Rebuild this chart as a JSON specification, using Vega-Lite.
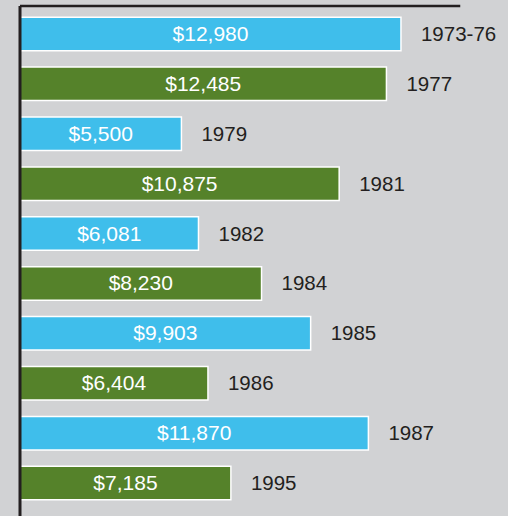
{
  "$schema": "https://vega.github.io/schema/vega-lite/v6.json",
  "width": 488,
  "height": 510,
  "autosize": {"type": "none"},
  "padding": {"left": 20, "top": 6, "right": 0, "bottom": 0},
  "background": "#d1d2d4",
  "config": {"view": {"stroke": null}},
  "data": {
    "values": [
      {"year": "1973-76", "value": 12980},
      {"year": "1977", "value": 12485},
      {"year": "1979", "value": 5500},
      {"year": "1981", "value": 10875},
      {"year": "1982", "value": 6081},
      {"year": "1984", "value": 8230},
      {"year": "1985", "value": 9903},
      {"year": "1986", "value": 6404},
      {"year": "1987", "value": 11870},
      {"year": "1995", "value": 7185}
    ]
  },
  "layer": [
    {
      "mark": {"type": "bar", "stroke": "white", "strokeWidth": 1.5},
      "encoding": {
        "y": {"field": "year", "type": "nominal", "sort": null, "axis": null,
              "scale": {"range": [0, 505], "paddingInner": 0.329, "paddingOuter": 0.224}},
        "x": {"field": "value", "type": "quantitative", "axis": null,
              "scale": {"domain": [0, 16627], "nice": false, "zero": true}},
        "color": {"field": "year", "type": "nominal", "legend": null,
                  "scale": {"domain": ["1973-76", "1977", "1979", "1981", "1982", "1984", "1985", "1986", "1987", "1995"],
                            "range": ["#3fbeeb", "#55822a", "#3fbeeb", "#55822a", "#3fbeeb", "#55822a", "#3fbeeb", "#55822a", "#3fbeeb", "#55822a"]}}
      }
    },
    {
      "mark": {"type": "text", "align": "left", "baseline": "middle", "dx": 20, "dy": 1, "fontSize": 20.5, "font": "Liberation Sans", "color": "#231f20"},
      "encoding": {
        "y": {"field": "year", "type": "nominal", "sort": null, "axis": null},
        "x": {"field": "value", "type": "quantitative", "axis": null,
              "scale": {"domain": [0, 16627], "nice": false, "zero": true}},
        "text": {"field": "year"}
      }
    },
    {
      "mark": {"type": "text", "align": "center", "baseline": "middle", "dy": 1, "fontSize": 21, "font": "Liberation Sans", "color": "white"},
      "encoding": {
        "y": {"field": "year", "type": "nominal", "sort": null, "axis": null},
        "x": {"field": "value", "type": "quantitative", "axis": null,
              "scale": {"domain": [0, 33254], "nice": false, "zero": true}},
        "text": {"field": "value", "format": "$,.0f"}
      }
    },
    {
      "data": {"values": [{}]},
      "mark": {"type": "rule", "color": "#231f20", "strokeWidth": 2.5},
      "encoding": {
        "x": {"datum": 0, "type": "quantitative", "axis": null,
              "scale": {"domain": [0, 16627], "nice": false, "zero": true}},
        "x2": {"datum": 15000},
        "y": {"value": 0}
      }
    },
    {
      "data": {"values": [{}]},
      "mark": {"type": "rule", "color": "#231f20", "strokeWidth": 3},
      "encoding": {
        "x": {"datum": 0, "type": "quantitative", "axis": null,
              "scale": {"domain": [0, 16627], "nice": false, "zero": true}}
      }
    }
  ],
  "resolve": {"scale": {"x": "independent"}}
}
